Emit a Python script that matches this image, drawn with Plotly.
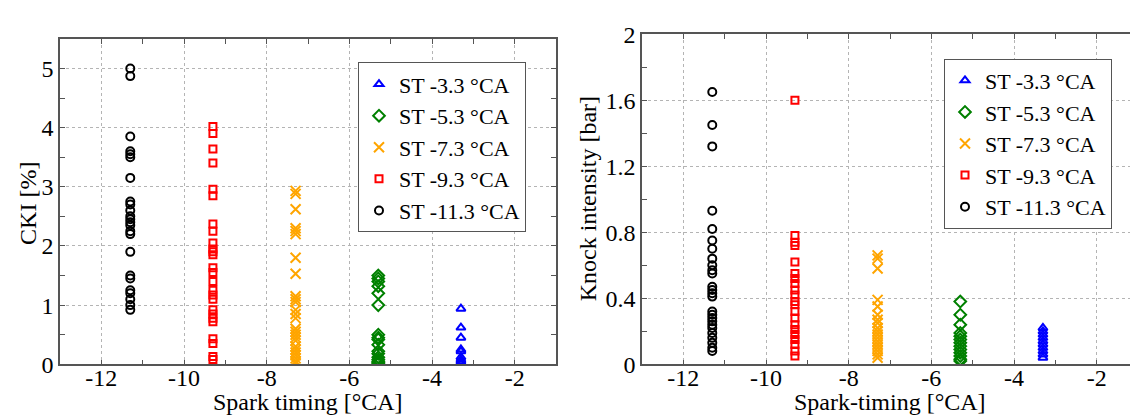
import plotly.graph_objects as go

# ---------------- data ----------------
series_names = ["ST -3.3 °CA", "ST -5.3 °CA", "ST -7.3 °CA", "ST -9.3 °CA", "ST -11.3 °CA"]
spark_timing = [-3.3, -5.3, -7.3, -9.3, -11.3]

cki_st33 = [0.94, 0.62, 0.45, 0.25, 0.22, 0.12, 0.08, 0.05, 0.03, 0.01]
cki_st53 = [1.5, 1.45, 1.4, 1.32, 1.2, 1.0, 0.5, 0.45, 0.42, 0.33, 0.22, 0.18, 0.12, 0.08, 0.05, 0.03, 0.01]
cki_st73 = [2.93, 2.88, 2.62, 2.3, 2.25, 2.2, 1.8, 1.53, 1.15, 1.1, 1.05, 0.92, 0.85, 0.78,
            0.6, 0.55, 0.5, 0.45, 0.4, 0.3, 0.25, 0.2, 0.15, 0.1, 0.05, 0.02]
cki_st93 = [4.02, 3.9, 3.64, 3.4, 2.96, 2.85, 2.37, 2.25, 2.05, 1.95, 1.9, 1.85, 1.63, 1.55,
            1.4, 1.25, 1.17, 1.1, 0.92, 0.85, 0.78, 0.72, 0.43, 0.35, 0.13, 0.08]
cki_st113 = [5.0, 4.87, 3.85, 3.6, 3.55, 3.5, 3.15, 2.75, 2.7, 2.6, 2.5, 2.45, 2.4, 2.35,
             2.25, 2.2, 1.9, 1.5, 1.45, 1.25, 1.2, 1.1, 1.0, 0.92]

ki_st33 = [0.22, 0.2, 0.18, 0.16, 0.14, 0.12, 0.1, 0.08, 0.06, 0.04]
ki_st53 = [0.38, 0.3, 0.24, 0.19, 0.17, 0.15, 0.13, 0.11, 0.09, 0.07, 0.05, 0.03, 0.02]
ki_st73 = [0.66, 0.64, 0.58, 0.39, 0.35, 0.3, 0.27, 0.25, 0.22, 0.2, 0.18, 0.16, 0.14,
           0.12, 0.1, 0.08, 0.06, 0.04]
ki_st93 = [1.6, 0.78, 0.74, 0.72, 0.62, 0.55, 0.52, 0.49, 0.45, 0.42, 0.38, 0.36, 0.32,
           0.28, 0.24, 0.21, 0.18, 0.15, 0.12, 0.08, 0.05]
ki_st113 = [1.65, 1.45, 1.32, 0.93, 0.82, 0.75, 0.70, 0.64, 0.6, 0.57, 0.55, 0.47, 0.45,
            0.43, 0.41, 0.32, 0.3, 0.28, 0.26, 0.24, 0.22, 0.19, 0.16, 0.13, 0.1, 0.08]

x_tick_vals = [-12, -10, -8, -6, -4, -2]
x_tick_text = ["-12", "-10", "-8", "-6", "-4", "-2"]
x_minor_vals = [-13, -11, -9, -7, -5, -3, -1]
cki_tick_vals = [0, 1, 2, 3, 4, 5]
cki_minor_vals = [0.5, 1.5, 2.5, 3.5, 4.5, 5.5]
ki_tick_vals = [0, 0.4, 0.8, 1.2, 1.6, 2.0]
ki_tick_text = ["0", "0.4", "0.8", "1.2", "1.6", "2"]
ki_minor_vals = [0.2, 0.6, 1.0, 1.4, 1.8]

x_title_left = "Spark timing [°CA]"
x_title_right = "Spark-timing [°CA]"
y_title_left = "CKI [%]"
y_title_right = "Knock intensity [bar]"

cki_values = [cki_st33, cki_st53, cki_st73, cki_st93, cki_st113]
ki_values = [ki_st33, ki_st53, ki_st73, ki_st93, ki_st113]

# ---------------- style ----------------
colors = ["#0000FF", "#008000", "#FFA500", "#FF0000", "#000000"]
symbols = ["triangle-up-open", "diamond-open", "x-thin-open", "square-open", "circle-open"]
sizes = [8, 9, 10, 7, 8]
FONT = "Liberation Serif"

fig = go.Figure()
for i in range(5):
    fig.add_trace(go.Scatter(
        x=[spark_timing[i]] * len(cki_values[i]), y=cki_values[i],
        mode="markers", name=series_names[i], legend="legend",
        marker=dict(symbol=symbols[i], color=colors[i], size=sizes[i],
                    line=dict(color=colors[i], width=2)),
        xaxis="x", yaxis="y"))
for i in range(5):
    fig.add_trace(go.Scatter(
        x=[spark_timing[i]] * len(ki_values[i]), y=ki_values[i],
        mode="markers", name=series_names[i], legend="legend2",
        marker=dict(symbol=symbols[i], color=colors[i], size=sizes[i],
                    line=dict(color=colors[i], width=2)),
        xaxis="x2", yaxis="y2"))

W, H = 1138, 419
axis_common = dict(
    showline=True, linecolor="#555555", linewidth=1.5, mirror="ticks",
    ticks="inside", ticklen=5, tickwidth=1, tickcolor="#555555",
    showgrid=True, gridcolor="#b4b4b4", griddash="dot", gridwidth=1,
    zeroline=False, tickfont=dict(family=FONT, size=24, color="black"),
)
minor_common = dict(ticks="inside", ticklen=5, tickwidth=1, tickcolor="#555555", showgrid=False)
legend_common = dict(xanchor="left", yanchor="top", bgcolor="white",
                     bordercolor="#555555", borderwidth=1,
                     font=dict(family=FONT, size=22, color="black"),
                     tracegroupgap=0, itemwidth=30)

title_font = dict(family=FONT, size=24, color="black")
annotations = [
    dict(text=x_title_left, xref="paper", yref="paper", x=300 / W, y=1 - 406 / H,
         xanchor="center", yanchor="middle", showarrow=False, font=title_font),
    dict(text=x_title_right, xref="paper", yref="paper", x=882 / W, y=1 - 406 / H,
         xanchor="center", yanchor="middle", showarrow=False, font=title_font),
    dict(text=y_title_left, xref="paper", yref="paper", x=20 / W, y=1 - 195 / H,
         xanchor="center", yanchor="middle", showarrow=False, font=title_font, textangle=-90),
    dict(text=y_title_right, xref="paper", yref="paper", x=580 / W, y=1 - 190 / H,
         xanchor="center", yanchor="middle", showarrow=False, font=title_font, textangle=-90),
]

fig.update_layout(
    width=W, height=H,
    margin=dict(l=0, r=0, t=0, b=0),
    paper_bgcolor="white", plot_bgcolor="white",
    font=dict(family=FONT, color="black"),
    xaxis=dict(axis_common, domain=[52 / W, 548 / W], range=[-13, -1],
               tickmode="array", tickvals=x_tick_vals, ticktext=x_tick_text,
               ticklabelstandoff=-9,
               minor=dict(minor_common, tickmode="array", tickvals=x_minor_vals),
               anchor="y"),
    yaxis=dict(axis_common, domain=[1 - 366 / H, 1 - 19 / H], range=[0, 5.5],
               tickmode="array", tickvals=cki_tick_vals,
               minor=dict(minor_common, tickmode="array", tickvals=cki_minor_vals),
               anchor="x"),
    xaxis2=dict(axis_common, domain=[634 / W, 1130 / W], range=[-13, -1],
                tickmode="array", tickvals=x_tick_vals, ticktext=x_tick_text,
                ticklabelstandoff=-9,
                minor=dict(minor_common, tickmode="array", tickvals=x_minor_vals),
                anchor="y2"),
    yaxis2=dict(axis_common, domain=[1 - 366 / H, 1 - 14 / H], range=[0, 2],
                tickmode="array", tickvals=ki_tick_vals, ticktext=ki_tick_text,
                minor=dict(minor_common, tickmode="array", tickvals=ki_minor_vals),
                anchor="x2"),
    legend=dict(legend_common, x=350 / W, y=1 - 44 / H),
    legend2=dict(legend_common, x=936 / W, y=1 - 40 / H),
    annotations=annotations,
    showlegend=True,
)

fig.write_html("out.html")
